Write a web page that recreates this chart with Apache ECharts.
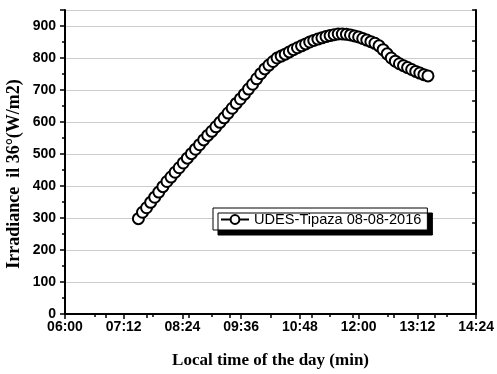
<!DOCTYPE html>
<html>
<head>
<meta charset="utf-8">
<script src="https://cdn.jsdelivr.net/npm/echarts@6/dist/echarts.min.js"></script>
<style>
  html, body { margin: 0; padding: 0; background: #fff; }
  #chart { width: 497px; height: 374px; }
</style>
</head>
<body>
<div id="chart"></div>
<script>
  // time of each reading (every 5 min)
  var times = [
    '07:30', '07:35', '07:40', '07:45', '07:50', '07:55', '08:00', '08:05', '08:10', '08:15',
    '08:20', '08:25', '08:30', '08:35', '08:40', '08:45', '08:50', '08:55', '09:00', '09:05',
    '09:10', '09:15', '09:20', '09:25', '09:30', '09:35', '09:40', '09:45', '09:50', '09:55',
    '10:00', '10:05', '10:10', '10:15', '10:20', '10:25', '10:30', '10:35', '10:40', '10:45',
    '10:50', '10:55', '11:00', '11:05', '11:10', '11:15', '11:20', '11:25', '11:30', '11:35',
    '11:40', '11:45', '11:50', '11:55', '12:00', '12:05', '12:10', '12:15', '12:20', '12:25',
    '12:30', '12:35', '12:40', '12:45', '12:50', '12:55', '13:00', '13:05', '13:10', '13:15',
    '13:20', '13:25'
  ]
  // irradiance W/m2
  var irradiance = [
    298, 318, 332, 349, 365, 381, 398, 414, 428, 443,
    457, 472, 487, 501, 515, 529, 544, 558, 571, 585,
    599, 613, 628, 643, 658, 672, 687, 703, 718, 735,
    751, 766, 778, 789, 800, 806, 812, 819, 826, 832,
    838, 844, 850, 855, 859, 863, 867, 870, 873, 875,
    875, 874, 872, 869, 866, 861, 856, 851, 846, 838,
    826, 813, 800, 790, 782, 776, 770, 764, 758, 753,
    748, 744
  ]
  var seriesName = 'UDES-Tipaza 08-08-2016'
  var xTitle = 'Local time of the day (min)'
  var yTitle = 'Irradiance  il 36°(W/m2)'

  function toMin (s) {
    var p = s.split(':')
    return parseInt(p[0], 10) * 60 + parseInt(p[1], 10)
  }
  function toHHMM (v) {
    var h = Math.floor(v / 60)
    var m = Math.round(v % 60)
    return (h < 10 ? '0' : '') + h + ':' + (m < 10 ? '0' : '') + m
  }

  var data = []
  for (var i = 0; i < times.length; i++) {
    data.push([toMin(times[i]), irradiance[i]])
  }

  var labelFont = {color: '#000', fontFamily: 'Liberation Sans', fontWeight: 'bold', fontSize: 14}
  var frameLine = {show: true, lineStyle: {color: '#000', width: 2}}

  var myChart = echarts.init(document.getElementById('chart'))
  var option = {
    animation: false,
    backgroundColor: '#fff',
    grid: {left: 65, right: 19, top: 10, bottom: 56},
    legend: {
      left: 213,
      top: 208,
      orient: 'horizontal',
      data: [seriesName],
      itemWidth: 28,
      itemHeight: 11,
      itemGap: 4,
      padding: [4, 6, 3, 7],
      backgroundColor: '#fff',
      borderColor: '#000',
      borderWidth: 1,
      borderRadius: 0,
      shadowColor: '#000',
      shadowBlur: 0,
      shadowOffsetX: 5,
      shadowOffsetY: 5,
      textStyle: {color: '#000', fontFamily: 'Liberation Sans', fontSize: 14.6}
    },
    xAxis: [{
      type: 'value',
      min: 360,
      max: 864,
      interval: 72,
      name: xTitle,
      nameLocation: 'middle',
      nameGap: 38,
      nameTextStyle: {color: '#000', fontFamily: 'Liberation Serif', fontWeight: 'bold', fontSize: 17},
      axisLine: frameLine,
      axisTick: {show: true, inside: false, length: 5, lineStyle: {color: '#000', width: 1.5}},
      minorTick: {show: true, splitNumber: 2, length: 3, lineStyle: {color: '#000', width: 1.5}},
      splitLine: {show: false},
      axisLabel: Object.assign({margin: 6, formatter: toHHMM}, labelFont)
    }, {
      type: 'value',
      position: 'top',
      min: 0,
      max: 10,
      interval: 1,
      axisLine: frameLine,
      axisTick: {show: true, inside: true, length: 4, lineStyle: {color: '#000', width: 1.5}},
      axisLabel: {show: false},
      splitLine: {show: false}
    }],
    yAxis: [{
      type: 'value',
      min: 0,
      max: 950,
      interval: 100,
      axisLine: frameLine,
      axisTick: {show: true, inside: false, length: 5, lineStyle: {color: '#000', width: 1.5}},
      minorTick: {show: true, splitNumber: 2, length: 3, lineStyle: {color: '#000', width: 1.5}},
      splitLine: {show: true, lineStyle: {color: '#cccccc', width: 1}},
      axisLabel: Object.assign({margin: 9, showMaxLabel: false}, labelFont)
    }, {
      type: 'value',
      position: 'right',
      min: 0,
      max: 10,
      interval: 1,
      axisLine: frameLine,
      axisTick: {show: true, inside: true, length: 4, lineStyle: {color: '#000', width: 1.5}},
      axisLabel: {show: false},
      splitLine: {show: false}
    }],
    graphic: [{
      type: 'text',
      x: 14,
      y: 174,
      rotation: Math.PI / 2,
      style: {
        text: yTitle,
        fill: '#000',
        font: 'bold 18px "Liberation Serif"',
        textAlign: 'center',
        textVerticalAlign: 'middle'
      }
    }],
    series: [{
      name: seriesName,
      type: 'line',
      xAxisIndex: 0,
      yAxisIndex: 0,
      symbol: 'emptyCircle',
      symbolSize: 11,
      lineStyle: {color: '#000', width: 1},
      itemStyle: {color: '#000', borderColor: '#000', borderWidth: 1},
      data: data
    }]
  }
  myChart.setOption(option, true)
</script>
</body>
</html>
